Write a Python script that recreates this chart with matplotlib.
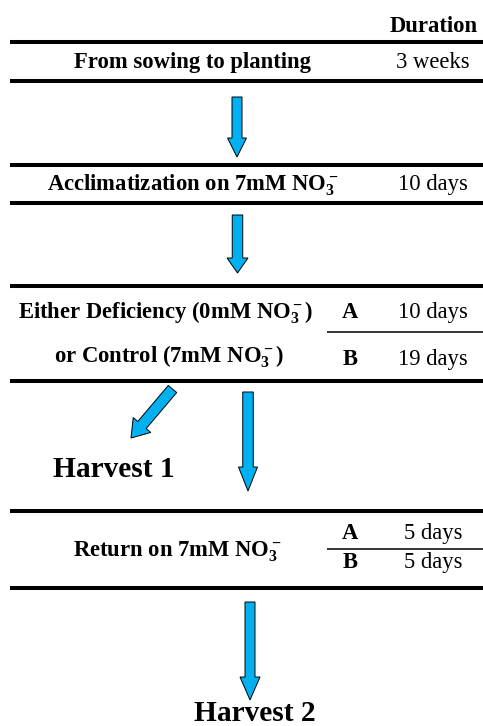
import matplotlib
matplotlib.use("Agg")
import matplotlib.pyplot as plt
from matplotlib.patches import FancyArrow

plt.rcParams['font.family'] = ['Liberation Serif', 'DejaVu Serif']
plt.rcParams['mathtext.fontset'] = 'custom'
plt.rcParams['mathtext.rm'] = 'Liberation Serif:bold'
plt.rcParams['mathtext.bf'] = 'Liberation Serif:bold'
plt.rcParams['mathtext.it'] = 'Liberation Serif:bold:italic'

# ---- content ----
header = "Duration"
steps = ["From sowing to planting",
         "Acclimatization on 7mM NO$_3^-$",
         "Either Deficiency (0mM NO$_3^-$)",
         "or Control (7mM NO$_3^-$)",
         "Return on 7mM NO$_3^-$"]
groups = ["A", "B", "A", "B"]
durations = ["3 weeks", "10 days", "10 days", "19 days", "5 days", "5 days"]
harvests = ["Harvest 1", "Harvest 2"]

# ---- layout (pixel coordinates) ----
W, H = 483, 726
fig = plt.figure(figsize=(W / 100, H / 100), dpi=100)
ax = fig.add_axes([0, 0, 1, 1])
ax.set_xlim(0, W)
ax.set_ylim(H, 0)
ax.axis('off')

body = 16.3
big = 21.2
blue = '#00B0F0'

# thick rules
for y in [42, 80.5, 165, 203, 286, 380.5, 511, 588]:
    ax.plot([10, W], [y, y], color='black', lw=2.9, solid_capstyle='butt')
# thin rules
for y in [332, 549]:
    ax.plot([327, W], [y, y], color='black', lw=1.1, solid_capstyle='butt')

ax.text(478, 32, header, ha='right', va='baseline', fontsize=body, fontweight='bold')

step_pos = [(192.5, 68), (192.5, 190), (166, 319), (169, 363), (177.5, 557)]
for s, (x, y) in zip(steps, step_pos):
    ax.text(x, y, s, ha='center', va='baseline', fontsize=body, fontweight='bold')

grp_pos = [(350, 318), (350, 365), (350, 539), (350, 568)]
for g, (x, y) in zip(groups, grp_pos):
    ax.text(x, y, g, ha='center', va='baseline', fontsize=body, fontweight='bold')

dur_y = [68, 190, 318, 365, 539, 568]
for d, y in zip(durations, dur_y):
    ax.text(433, y, d, ha='center', va='baseline', fontsize=body)

harv_pos = [(114, 477), (255, 721)]
for h, (x, y) in zip(harvests, harv_pos):
    ax.text(x, y, h, ha='center', va='baseline', fontsize=big, fontweight='bold')

# arrows: (x0, y0, x1, y1, shaft width, head width, head length)
arrows = [(237, 97, 237, 157, 10, 19, 19),
          (237.5, 215, 237.5, 273, 10.5, 21, 15),
          (248, 392, 248, 491, 10.5, 19, 24),
          (250, 602, 250, 700, 10, 20, 23),
          (172.5, 389, 131, 438, 11, 23, 17)]
for x0, y0, x1, y1, w, hw, hl in arrows:
    ax.add_patch(FancyArrow(x0, y0, x1 - x0, y1 - y0, width=w, head_width=hw,
                            head_length=hl, length_includes_head=True,
                            facecolor=blue, edgecolor='black', lw=0.7))

fig.savefig('out.png', dpi=100)
